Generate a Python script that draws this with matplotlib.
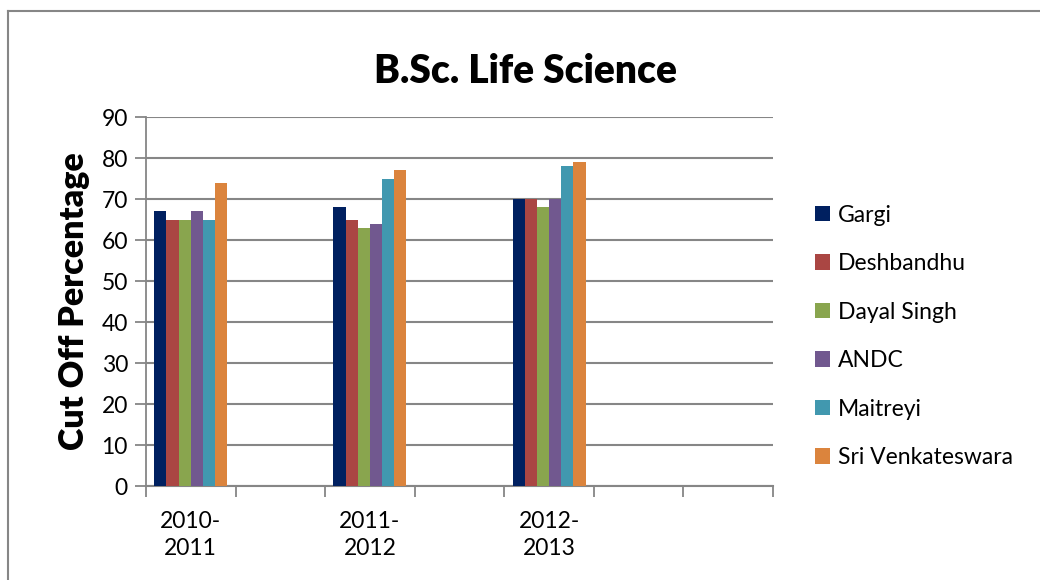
import numpy as np
import matplotlib
matplotlib.use("Agg")
import matplotlib.pyplot as plt
from matplotlib.patches import Patch
from matplotlib.lines import Line2D

plt.rcParams['font.family'] = ['Lato', 'DejaVu Sans']

# blank categories are the empty slots Excel left in the axis
categories = ["2010-\n2011", "", "2011-\n2012", "", "2012-\n2013", "", ""]
nan = np.nan
colleges = ["Gargi", "Deshbandhu", "Dayal Singh", "ANDC", "Maitreyi", "Sri Venkateswara"]
gargi = [67, nan, 68, nan, 70, nan, nan]
deshbandhu = [65, nan, 65, nan, 70, nan, nan]
dayal_singh = [65, nan, 63, nan, 68, nan, nan]
andc = [67, nan, 64, nan, 70, nan, nan]
maitreyi = [65, nan, 75, nan, 78, nan, nan]
sri_venkateswara = [74, nan, 77, nan, 79, nan, nan]
series = [gargi, deshbandhu, dayal_singh, andc, maitreyi, sri_venkateswara]
colors = ["#002060", "#AA4643", "#89A54E", "#71588F", "#4198AF", "#DB843D"]

fig = plt.figure(figsize=(10.4, 5.8), dpi=100)
ax = fig.add_axes([0.1404, 0.162, 0.6029, 0.636])

x = np.arange(len(categories))
group = 0.815
w = group / len(series)
for i, (vals, c) in enumerate(zip(series, colors)):
    ax.bar(x - group / 2 + w * (i + 0.5), vals, width=w, color=c, zorder=3)

ax.set_xlim(-0.5, len(categories) - 0.5)
ax.set_ylim(0, 90)
ax.set_yticks(range(0, 91, 10))
ax.set_xticks(np.arange(len(categories) + 1) - 0.5, minor=False)
ax.set_xticklabels([])
ax.set_xticks(x, minor=True)
ax.set_xticklabels(categories, minor=True, fontsize=16.5, linespacing=1.35)
ax.tick_params(axis='x', which='minor', length=0, pad=18)
ax.tick_params(axis='x', which='major', length=8, width=1.3, color="#868686", direction='out')
ax.tick_params(axis='y', length=8, width=1.3, color="#868686", labelsize=16.5, pad=5)

ax.grid(axis='y', color="#868686", linewidth=1.5, zorder=0)
for s in ["top", "right"]:
    ax.spines[s].set_visible(False)
ax.spines["left"].set_color("#868686")
ax.spines["left"].set_linewidth(1.3)
ax.spines["bottom"].set_color("#868686")
ax.spines["bottom"].set_linewidth(1.5)

ax.set_ylabel("Cut Off Percentage", fontsize=24.5, fontweight='heavy', labelpad=8)
fig.text(0.505, 0.877, "B.Sc. Life Science", fontsize=28, fontweight='heavy',
         ha='center', va='center')

handles = [Patch(facecolor=c) for c in colors]
fig.legend(handles, colleges, loc='center left', bbox_to_anchor=(0.764, 0.42),
           frameon=False, fontsize=16.5, handlelength=0.65, handleheight=0.65,
           handletextpad=0.35, labelspacing=1.2)

# chart area border (only top and left visible in the crop)
fig.add_artist(Line2D([0.008, 1.0], [0.981, 0.981], transform=fig.transFigure,
                      color="#868686", linewidth=1.5))
fig.add_artist(Line2D([0.008, 0.008], [0.0, 0.981], transform=fig.transFigure,
                      color="#868686", linewidth=1.5))

fig.savefig("out.png", dpi=100)
